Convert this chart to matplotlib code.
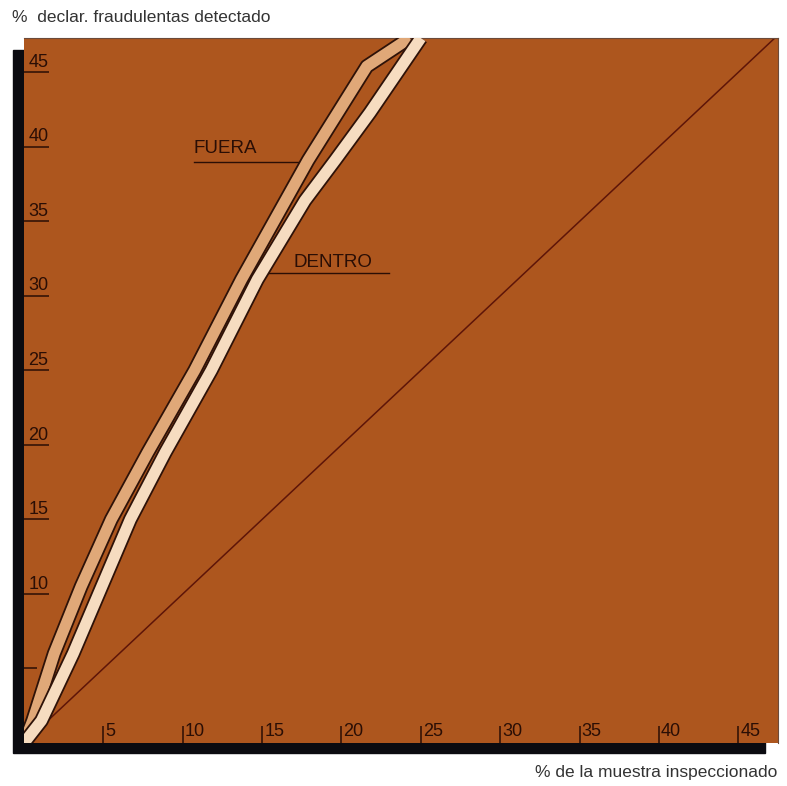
import matplotlib.pyplot as plt
import matplotlib.patheffects as pe
from matplotlib.patches import Rectangle
from matplotlib.transforms import offset_copy

# datos ─────────────────────────────────────────────────────────────────
fuera_x = [0, 0.55, 1.9, 3.6, 5.5, 7.8, 10.75, 13.7, 17.9, 21.6, 24.3]
fuera_y = [0, 1.5, 6.0, 10.5, 15.0, 19.5, 25.0, 31.1, 39.1, 45.4, 47.3]

dentro_x = [0, 1.1, 3.1, 4.9, 6.7, 8.9, 11.8, 14.7, 17.7, 19.6, 21.8, 25.0]
dentro_y = [0, 1.5, 6.0, 10.5, 15.0, 19.5, 25.0, 31.1, 36.4, 39.1, 42.3, 47.3]

diag = [0, 47.5]

x_ticks = [5, 10, 15, 20, 25, 30, 35, 40, 45]
y_ticks = [10, 15, 20, 25, 30, 35, 40, 45]

plt.rcParams['font.family'] = ['Liberation Sans', 'DejaVu Sans']

marron = "#ad561e"
oscuro = "#2a0e05"
borde = "#2e1208"

fig = plt.figure(figsize=(7.87, 7.86), dpi=100)

# sombra negra detrás del panel
fig.patches.append(Rectangle((13 / 787, 33 / 786), 752 / 787, 703 / 786,
                             transform=fig.transFigure, color="#0b0b10", zorder=0))

ax = fig.add_axes([24 / 787, 43 / 786, 754 / 787, 705 / 786], zorder=1)
ax.set_facecolor(marron)
ax.set_xlim(0, 47.5)
ax.set_ylim(0, 47.3)

for s in ["left", "bottom"]:
    ax.spines[s].set_visible(False)
for s in ["top", "right"]:
    ax.spines[s].set_color("#6b4a3a")
    ax.spines[s].set_linewidth(0.8)

# diagonal
ax.plot(diag, diag, color="#5e1508", lw=1.1, zorder=2)

# bandas
for xs, ys, col, z in [(fuera_x, fuera_y, "#e0a878", 3),
                       (dentro_x, dentro_y, "#f6dcc0", 4)]:
    ax.plot(xs, ys, color=col, lw=8.0, solid_capstyle="butt",
            solid_joinstyle="round", zorder=z,
            path_effects=[pe.Stroke(linewidth=10.6, foreground=borde,
                                    joinstyle="round"), pe.Normal()])

# ejes: marcas hacia dentro
ax.set_xticks(x_ticks)
ax.set_yticks(y_ticks)
ax.set_yticks([5], minor=True)
ax.set_xticks([], minor=True)
ax.tick_params(axis="x", direction="in", length=12, width=1.1, color=oscuro,
               labelbottom=False)
ax.tick_params(axis="y", which="major", direction="in", length=18, width=1.1,
               color=oscuro, labelleft=False)
ax.tick_params(axis="y", which="minor", direction="in", length=9, width=1.1,
               color=oscuro)

tx = offset_copy(ax.get_xaxis_transform(), fig=fig, x=1.5, y=2, units="points")
for v in x_ticks:
    ax.text(v, 0, str(v), transform=tx, ha="left", va="bottom",
            fontsize=13, color=oscuro)

ty = offset_copy(ax.get_yaxis_transform(), fig=fig, x=3, y=1, units="points")
for v in y_ticks:
    ax.text(0, v, str(v), transform=ty, ha="left", va="bottom",
            fontsize=13, color=oscuro)

# etiquetas de las curvas
ax.text(10.7, 39.3, "FUERA", fontsize=13.5, color=oscuro, ha="left", va="bottom")
ax.plot([10.7, 17.4], [39.0, 39.0], color=oscuro, lw=1.0, zorder=2)
ax.text(17.0, 31.7, "DENTRO", fontsize=13.5, color=oscuro, ha="left", va="bottom")
ax.plot([15.4, 23.0], [31.5, 31.5], color=oscuro, lw=1.0, zorder=2)

# títulos de ejes
fig.text(12 / 787, 1 - 18 / 786, "%  declar. fraudulentas detectado",
         fontsize=12.5, color="#333333", ha="left", va="center")
fig.text(777 / 787, 1 - 773 / 786, "% de la muestra inspeccionado",
         fontsize=12.5, color="#333333", ha="right", va="center")

plt.savefig("out.png", dpi=100)
plt.close()
